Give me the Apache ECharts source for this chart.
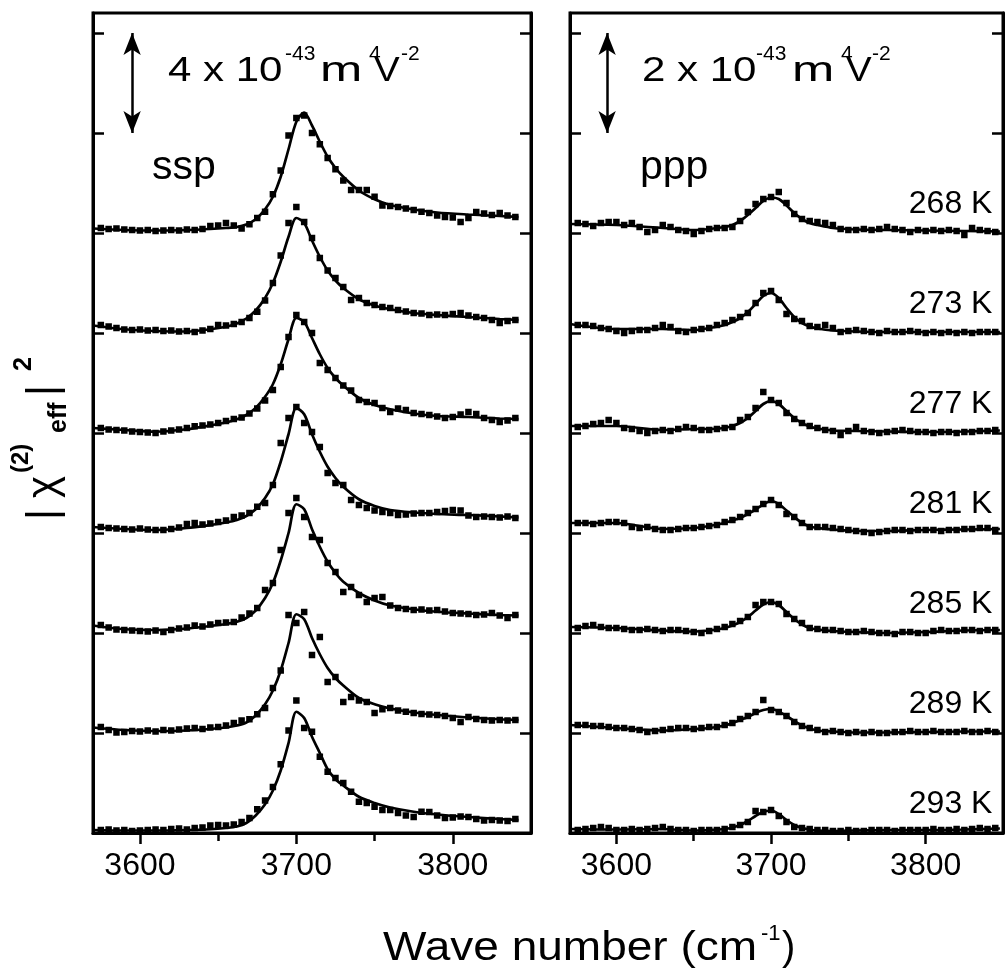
<!DOCTYPE html>
<html><head><meta charset="utf-8">
<script src="https://cdn.jsdelivr.net/npm/echarts/dist/echarts.min.js"></script>
<style>html,body{margin:0;padding:0;background:#fff}#c{width:1005px;height:971px}</style>
</head><body><div id="c"></div>
<script>
// ---------------- data ----------------
const temps = ['268 K','273 K','277 K','281 K','285 K','289 K','293 K'];
const sspOffsets = [24,20,16,12,8,4,0];
const pppOffsets = [12,10,8,6,4,2,0];
const xTickLabels = [3600,3700,3800];
const xMinorTicks = [3650,3750];
const sspYTicks = [4,8,12,16,20,24,28,32];
const pppYTicks = [2,4,6,8,10,12,14,16];
const scaleBars = [4,2]; // 10^-43 m^4 V^-2

const sspX = [3575,3580,3585,3590,3595,3600,3605,3610,3615,3620,3625,3630,3635,3640,3645,3650,3655,3660,3665,3670,3675,3680,3685,3690,3695,3700,3705,3710,3715,3720,3725,3730,3735,3740,3745,3750,3755,3760,3765,3770,3775,3780,3785,3790,3795,3800,3805,3810,3815,3820,3825,3830,3835,3840];
const pppX = [3575,3580,3585,3590,3595,3600,3605,3610,3615,3620,3625,3630,3635,3640,3645,3650,3655,3660,3665,3670,3675,3680,3685,3690,3695,3700,3705,3710,3715,3720,3725,3730,3735,3740,3745,3750,3755,3760,3765,3770,3775,3780,3785,3790,3795,3800,3805,3810,3815,3820,3825,3830,3835,3840,3845];
const sspFitX = [3570,3590,3610,3630,3645,3655,3662,3668,3674,3680,3685,3690,3695,3700,3705,3710,3715,3720,3725,3730,3740,3750,3760,3775,3790,3810,3830,3842];
const pppFitX = [3570,3600,3630,3650,3660,3670,3675,3680,3685,3690,3695,3700,3705,3710,3715,3720,3725,3730,3740,3755,3775,3800,3825,3848];

// ssp measured points (relative to offset)
const ssp268 = [0.20,0.16,0.18,0.14,0.12,0.10,0.12,0.08,0.10,0.12, 0.10,0.14,0.12,0.16,0.28,0.30,0.40,0.30,0.18,0.35, 0.60,0.85,1.55,2.50,3.90,4.60,4.70,4.00,3.55,3.00, 2.55,2.10,1.72,1.72,1.72,1.45,1.10,1.08,1.04,0.98, 0.92,0.85,0.80,0.70,0.64,0.62,0.44,0.60,0.84,0.78, 0.72,0.80,0.70,0.64];
const ssp273 = [0.32,0.26,0.20,0.14,0.12,0.14,0.10,0.12,0.08,0.10, 0.06,0.08,0.04,0.10,0.16,0.32,0.30,0.36,0.44,0.60, 0.85,1.30,2.00,3.10,4.40,5.04,4.44,3.80,3.00,2.50, 2.20,1.84,1.32,1.40,1.20,1.12,1.04,1.00,0.92,0.86, 0.80,0.78,0.72,0.74,0.72,0.76,0.80,0.70,0.64,0.60, 0.52,0.40,0.48,0.52];
const ssp277 = [0.20,0.14,0.12,0.10,0.06,0.04,0.02,0.00,0.06,0.10, 0.14,0.20,0.27,0.30,0.34,0.40,0.48,0.56,0.62,0.78, 0.98,1.30,1.72,2.64,3.84,4.72,4.44,4.00,2.80,2.52, 2.20,1.90,1.70,1.32,1.24,1.20,1.00,0.84,0.98,0.92, 0.80,0.76,0.72,0.66,0.60,0.64,0.74,0.84,0.76,0.60, 0.52,0.44,0.50,0.60];
const ssp281 = [0.24,0.20,0.18,0.16,0.14,0.18,0.14,0.12,0.12,0.16, 0.22,0.36,0.40,0.34,0.38,0.44,0.50,0.64,0.70,0.80, 1.05,1.20,1.92,3.60,4.60,5.04,4.40,4.04,3.44,2.40, 2.00,1.92,1.32,1.12,1.00,0.90,0.84,0.80,0.72,0.74, 0.78,0.80,0.80,0.84,0.88,0.92,0.90,0.70,0.64,0.66, 0.64,0.62,0.66,0.60];
const ssp285 = [0.32,0.22,0.14,0.12,0.10,0.08,0.06,0.10,0.04,0.12, 0.18,0.22,0.30,0.26,0.34,0.40,0.42,0.44,0.62,0.78, 1.00,1.72,2.00,3.32,4.80,5.40,4.64,3.84,3.72,2.80, 2.44,1.64,1.84,1.52,1.24,1.40,1.44,1.10,1.00,0.96, 0.92,0.94,0.90,0.92,0.86,0.80,0.78,0.76,0.72,0.74, 0.80,0.70,0.60,0.72];
const ssp289 = [0.24,0.12,0.02,0.04,0.08,0.06,0.10,0.06,0.12,0.10, 0.14,0.18,0.20,0.16,0.22,0.24,0.30,0.40,0.50,0.55, 0.75,1.00,1.80,2.50,4.72,4.40,4.84,3.12,3.84,2.04, 2.24,1.24,1.44,1.30,1.24,0.80,0.95,1.00,0.90,0.85, 0.80,0.76,0.74,0.72,0.68,0.60,0.44,0.64,0.56,0.52, 0.50,0.52,0.50,0.52];
const ssp293 = [0.12,0.14,0.10,0.12,0.08,0.10,0.12,0.14,0.12,0.16, 0.18,0.14,0.20,0.22,0.30,0.32,0.30,0.34,0.44,0.60, 0.95,1.30,1.84,2.75,4.10,5.30,4.20,4.05,3.05,2.45, 2.20,2.00,1.65,1.25,1.20,1.05,0.92,0.92,0.80,0.70, 0.64,0.85,0.84,0.70,0.60,0.62,0.66,0.64,0.56,0.50, 0.52,0.50,0.48,0.56];

// ssp fitted curves (relative to offset)
const sspFit268 = [0.18,0.12,0.10,0.12,0.16,0.20,0.24,0.34,0.55,0.95,1.45,2.25,3.35,4.45,4.82,4.30,3.65,3.05,2.60,2.25,1.70,1.35,1.12,0.94,0.82,0.74,0.68,0.64];
const sspFit273 = [0.30,0.15,0.08,0.06,0.15,0.25,0.38,0.58,0.90,1.40,2.00,2.85,3.85,4.60,4.40,3.70,3.05,2.50,2.10,1.80,1.35,1.10,0.95,0.80,0.72,0.64,0.56,0.52];
const sspFit277 = [0.20,0.12,0.05,0.15,0.30,0.42,0.55,0.72,1.00,1.45,1.95,2.75,3.75,4.60,4.45,3.80,3.15,2.60,2.20,1.90,1.40,1.12,0.95,0.78,0.68,0.64,0.58,0.56];
const sspFit281 = [0.24,0.16,0.12,0.20,0.32,0.42,0.52,0.68,0.95,1.40,1.95,2.85,3.95,5.00,4.75,3.95,3.25,2.65,2.20,1.85,1.35,1.08,0.92,0.82,0.76,0.72,0.66,0.62];
const sspFit285 = [0.30,0.15,0.12,0.18,0.28,0.36,0.45,0.60,0.90,1.40,2.00,2.90,4.00,5.15,4.95,4.15,3.45,2.85,2.40,2.05,1.60,1.30,1.10,0.95,0.85,0.78,0.72,0.70];
const sspFit289 = [0.22,0.12,0.08,0.10,0.16,0.22,0.30,0.42,0.70,1.15,1.70,2.50,3.60,4.75,4.55,3.80,3.15,2.60,2.20,1.90,1.40,1.15,0.98,0.82,0.72,0.62,0.55,0.52];
const sspFit293 = [0.12,0.10,0.10,0.12,0.15,0.20,0.26,0.40,0.70,1.15,1.70,2.50,3.60,4.85,4.60,3.85,3.20,2.55,2.15,1.90,1.45,1.20,1.02,0.85,0.74,0.64,0.56,0.52];

// ppp measured points (relative to offset)
const ppp268 = [0.20,0.18,0.14,0.20,0.22,0.22,0.16,0.20,0.12,0.02, 0.06,0.16,0.12,0.06,0.04,-0.02,0.04,0.08,0.10,0.10, 0.12,0.24,0.42,0.58,0.68,0.72,0.82,0.60,0.38,0.28, 0.24,0.22,0.20,0.16,0.08,0.06,0.06,0.08,0.06,0.08, 0.12,0.08,0.06,0.02,0.06,0.04,0.06,0.04,0.06,0.04, -0.04,0.10,0.06,0.04,0.02];
const ppp273 = [0.16,0.16,0.14,0.10,0.08,0.04,0.00,0.04,0.06,0.06, 0.10,0.16,0.12,0.04,0.02,0.06,0.08,0.10,0.16,0.20, 0.26,0.32,0.40,0.60,0.80,0.84,0.66,0.38,0.28,0.24, 0.14,0.12,0.16,0.10,0.02,0.04,0.06,0.04,0.02,0.00, 0.04,0.02,0.02,0.04,0.02,0.00,0.02,0.00,0.02,0.00, 0.02,0.00,0.02,0.02,0.02];
const ppp277 = [0.12,0.14,0.18,0.20,0.26,0.20,0.10,0.08,0.04,0.00, 0.04,0.06,0.04,0.08,0.12,0.10,0.06,0.06,0.08,0.10, 0.12,0.26,0.32,0.50,0.82,0.66,0.60,0.40,0.28,0.20, 0.14,0.10,0.06,0.04,-0.04,0.04,0.12,0.04,0.02,0.00, 0.02,0.04,0.06,0.04,0.02,0.02,0.00,0.02,0.02,0.00, 0.02,0.02,0.04,0.04,0.06];
const ppp281 = [0.20,0.20,0.18,0.20,0.22,0.22,0.20,0.12,0.10,0.12, 0.08,0.06,0.06,0.08,0.10,0.10,0.12,0.14,0.16,0.22, 0.26,0.32,0.40,0.48,0.58,0.66,0.56,0.38,0.32,0.20, 0.12,0.12,0.12,0.10,0.08,0.06,0.04,0.02,0.00,0.02, 0.04,0.06,0.06,0.04,0.06,0.06,0.06,0.04,0.06,0.06, 0.08,0.08,0.10,0.10,0.06];
const ppp285 = [0.10,0.14,0.16,0.12,0.10,0.10,0.08,0.06,0.06,0.08, 0.06,0.04,0.06,0.06,0.04,0.02,0.00,0.04,0.08,0.12, 0.18,0.24,0.32,0.56,0.62,0.62,0.58,0.38,0.28,0.20, 0.10,0.08,0.06,0.06,0.04,0.02,0.02,0.04,0.02,0.00, 0.00,-0.02,0.02,0.02,0.00,0.00,0.04,0.06,0.04,0.04, 0.06,0.06,0.04,0.06,0.06];
const ppp289 = [0.16,0.16,0.14,0.14,0.12,0.10,0.10,0.08,0.06,0.02, 0.04,0.06,0.08,0.10,0.10,0.08,0.10,0.12,0.12,0.16, 0.20,0.28,0.34,0.42,0.66,0.46,0.42,0.34,0.22,0.14, 0.10,0.06,0.02,0.04,0.02,0.00,0.02,0.00,0.02,0.00, 0.00,0.02,0.02,0.04,0.02,0.02,0.04,0.02,0.02,0.02, 0.04,0.02,0.02,0.04,0.02];
const ppp293 = [0.06,0.08,0.10,0.12,0.10,0.06,0.06,0.08,0.06,0.08, 0.10,0.12,0.08,0.06,0.06,0.04,0.06,0.06,0.06,0.08, 0.12,0.16,0.22,0.44,0.42,0.46,0.34,0.22,0.12,0.10, 0.08,0.06,0.06,0.04,0.04,0.06,0.04,0.04,0.06,0.06, 0.06,0.04,0.06,0.06,0.06,0.06,0.08,0.06,0.06,0.08, 0.06,0.08,0.10,0.08,0.10];

// ppp fitted curves (relative to offset)
const pppFit268 = [0.18,0.16,0.10,0.06,0.08,0.12,0.16,0.24,0.36,0.50,0.64,0.71,0.68,0.55,0.40,0.28,0.20,0.16,0.10,0.07,0.06,0.05,0.04,0.03];
const pppFit273 = [0.18,0.08,0.08,0.06,0.10,0.16,0.22,0.30,0.42,0.58,0.74,0.80,0.70,0.50,0.32,0.20,0.13,0.09,0.05,0.03,0.02,0.02,0.02,0.02];
const pppFit277 = [0.14,0.14,0.06,0.08,0.08,0.10,0.14,0.20,0.30,0.44,0.58,0.64,0.58,0.44,0.30,0.20,0.13,0.09,0.05,0.04,0.03,0.02,0.03,0.05];
const pppFit281 = [0.20,0.20,0.08,0.10,0.14,0.20,0.25,0.30,0.38,0.47,0.57,0.64,0.58,0.45,0.32,0.20,0.13,0.10,0.07,0.04,0.04,0.06,0.07,0.08];
const pppFit285 = [0.12,0.10,0.05,0.03,0.05,0.10,0.15,0.22,0.32,0.45,0.57,0.62,0.56,0.42,0.28,0.17,0.10,0.07,0.04,0.02,0.00,0.02,0.05,0.06];
const pppFit289 = [0.16,0.10,0.05,0.08,0.10,0.15,0.20,0.26,0.32,0.40,0.46,0.48,0.43,0.34,0.24,0.15,0.09,0.05,0.03,0.01,0.01,0.02,0.03,0.03];
const pppFit293 = [0.08,0.07,0.08,0.05,0.06,0.08,0.11,0.16,0.24,0.34,0.42,0.45,0.38,0.26,0.16,0.10,0.07,0.05,0.04,0.05,0.06,0.06,0.07,0.09];

// ---------------- chart ----------------
const FF = '"Liberation Sans", Arial, Helvetica, sans-serif';
const sspPts = [ssp268,ssp273,ssp277,ssp281,ssp285,ssp289,ssp293];
const sspFits = [sspFit268,sspFit273,sspFit277,sspFit281,sspFit285,sspFit289,sspFit293];
const pppPts = [ppp268,ppp273,ppp277,ppp281,ppp285,ppp289,ppp293];
const pppFits = [pppFit268,pppFit273,pppFit277,pppFit281,pppFit285,pppFit289,pppFit293];

const series = [];
function addPanel(pts, fits, xs, fitXs, offs, xi, yi) {
  pts.forEach((vals, k) => {
    series.push({
      type:'scatter', xAxisIndex:xi, yAxisIndex:yi, symbol:'rect', symbolSize:6.5,
      itemStyle:{color:'#000', opacity:1}, silent:true, z:3,
      data: xs.map((x,i)=>[x, vals[i]+offs[k]])
    });
    series.push({
      type:'line', xAxisIndex:xi, yAxisIndex:yi, smooth:0.3, symbol:'none', showSymbol:false,
      lineStyle:{color:'#000', width:2.7, opacity:1}, silent:true, z:2,
      data: fitXs.map((x,i)=>[x, fits[k][i]+offs[k]])
    });
  });
}
addPanel(sspPts, sspFits, sspX, sspFitX, sspOffsets, 0, 0);
addPanel(pppPts, pppFits, pppX, pppFitX, pppOffsets, 2, 2);

// scale bars
function bar(xi, yi, xv, y0, len) {
  return {
    type:'scatter', xAxisIndex:xi, yAxisIndex:yi, data:[], silent:true,
    markLine:{
      silent:true, animation:false, symbol:['arrow','arrow'], symbolSize:[13,22],
      label:{show:false}, lineStyle:{color:'#000', width:2.5, type:'solid', opacity:1},
      data:[[{coord:[xv, y0]},{coord:[xv, y0+len]}]]
    }
  };
}
series.push(bar(0,0,3595,28,scaleBars[0]));
series.push(bar(2,2,3594,14,scaleBars[1]));

// temperature labels
const LABEL_RAISE = 0.58;
series.push({
  type:'scatter', xAxisIndex:2, yAxisIndex:2, symbolSize:1, itemStyle:{color:'rgba(0,0,0,0)', opacity:1}, silent:true, z:5,
  data: temps.map((t,k)=>[3848, pppOffsets[k]+LABEL_RAISE, t]),
  label:{show:true, position:'left', distance:7, formatter:p=>p.data[2], fontSize:32, color:'#000', opacity:1, fontFamily:FF}
});

function xMain(gi) {
  return {gridIndex:gi, type:'value', min:3570, max:3850, position:'bottom',
    axisLine:{show:true, onZero:false, lineStyle:{color:'#000', width:3}},
    axisTick:{show:true, inside:false, length:11, lineStyle:{color:'#000', width:2.5}, customValues:xTickLabels},
    axisLabel:{show:true, customValues:xTickLabels, formatter:v=>String(v), fontSize:32, color:'#000', fontFamily:FF, margin:17},
    splitLine:{show:false}};
}
function xMinor(gi) {
  return {gridIndex:gi, type:'value', min:3570, max:3850, position:'bottom', offset:0,
    axisLine:{show:false, onZero:false},
    axisTick:{show:true, inside:false, length:8, lineStyle:{color:'#000', width:2.5}, customValues:xMinorTicks},
    axisLabel:{show:false}, splitLine:{show:false}};
}
function yAx(gi, max, ticks, pos) {
  return {gridIndex:gi, type:'value', min:0, max:max, position:pos,
    axisLine:{show:true, onZero:false, lineStyle:{color:'#000', width:3}},
    axisTick:{show:true, inside:true, length:11, lineStyle:{color:'#000', width:2.5}, customValues:ticks},
    axisLabel:{show:false}, splitLine:{show:false}};
}

function T(text, x, baseline, fs, o) {
  o = o || {};
  return {type:'text', x:x, y:baseline-0.35*fs, scaleX:o.sx||1, silent:true,
    style:{text:text, x:0, y:0, fill:'#000', fontSize:fs, fontFamily:FF,
      fontWeight:o.bold?'bold':'normal', align:'left', verticalAlign:'middle'}};
}

const graphics = [
  T('4 x 10', 168, 84, 35, {sx:1.2}), T('-43', 285, 62, 21), T('m', 320, 84, 35, {sx:1.45}),
  T('4', 369, 62, 21), T('V', 374, 84, 35, {sx:1.1}), T('-2', 401, 62, 21),
  T('2 x 10', 642, 84, 35, {sx:1.2}), T('-43', 756, 62, 21), T('m', 792, 84, 35, {sx:1.45}),
  T('4', 841, 62, 21), T('V', 846, 84, 35, {sx:1.1}), T('-2', 872, 62, 21),
  T('ssp', 152, 182, 41), T('ppp', 640, 182, 41),
  T('Wave number (cm', 383, 963, 40, {sx:1.15}), T('-1', 761, 942, 22), T(')', 782, 963, 40),
  {type:'group', x:59, y:518, rotation:Math.PI/2, children:[
    T('|', -2, 0, 42), T('\u03c7', 20, 0, 42), T('(2)', 45, -29, 24, {bold:true}),
    T('eff', 85, 9, 25, {bold:true}), T('|', 122, 0, 42), T('2', 147, -26, 25, {bold:true})
  ]}
];

const chart = echarts.init(document.getElementById('c'), null, {renderer:'canvas'});
chart.setOption({
  animation:false,
  backgroundColor:'#fff',
  grid:[
    {left:93, top:13, width:438, height:820, show:true, borderColor:'#000', borderWidth:3, backgroundColor:'transparent'},
    {left:570, top:13, width:433, height:820, show:true, borderColor:'#000', borderWidth:3, backgroundColor:'transparent'}
  ],
  xAxis:[xMain(0), xMinor(0), xMain(1), xMinor(1)],
  yAxis:[yAx(0,32.8,sspYTicks,'left'), yAx(0,32.8,sspYTicks,'right'), yAx(1,16.4,pppYTicks,'left'), yAx(1,16.4,pppYTicks,'right')],
  series:series,
  graphic:graphics
});
</script></body></html>
